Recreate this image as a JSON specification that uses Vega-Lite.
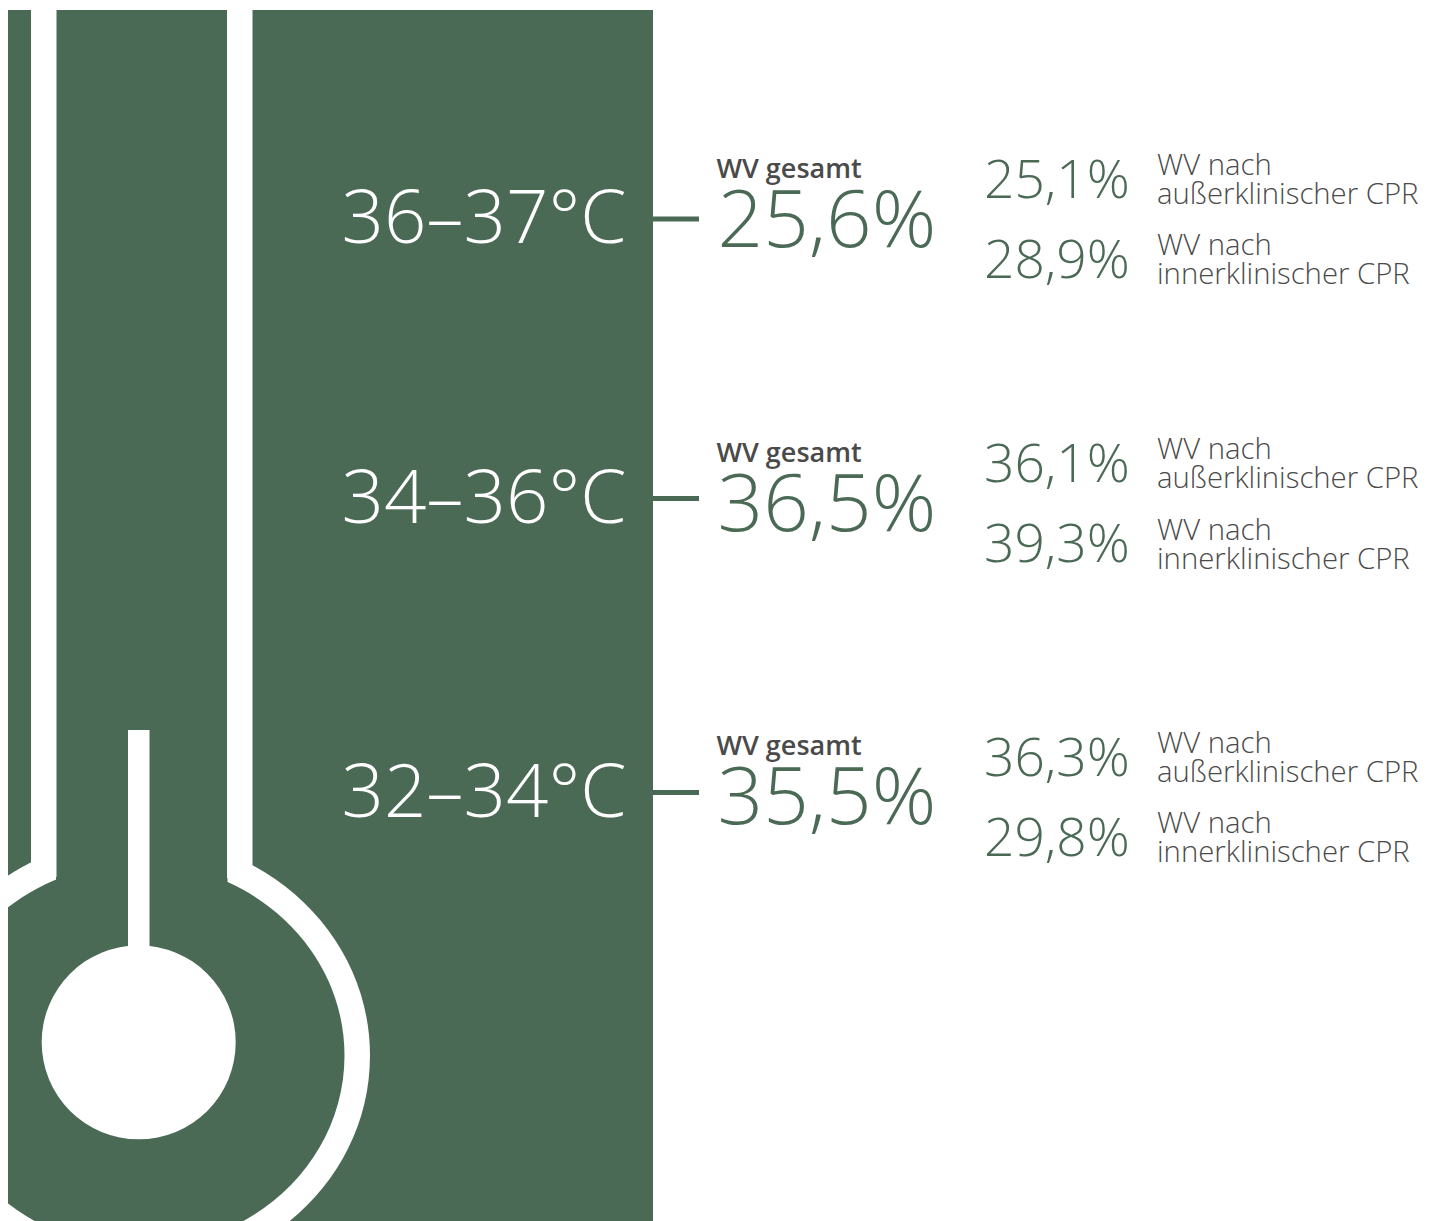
{
"$schema":"https://vega.github.io/schema/vega-lite/v6.json",
"width":1436,"height":1221,"padding":0,"autosize":{"type":"fit","contains":"padding"},"background":"#ffffff",
"config":{"view":{"stroke":null},"text":{"font":"Open Sans"}},
"datasets":{
"bg":[{"part":"Thermometer","x":8,"x2":653,"y":10,"y2":1221}],
"shapes":[
{"part":"Röhre innen","tone":"green","x":56,"x2":227.5,"y":10,"y2":890},
{"part":"Röhre links","tone":"white","x":31,"x2":56.5,"y":10,"y2":877},
{"part":"Röhre rechts","tone":"white","x":227,"x2":252.5,"y":10,"y2":878},
{"part":"Steigrohr","tone":"white","x":128,"x2":149.5,"y":730,"y2":960},
{"part":"Rand","tone":"white","x":0,"x2":8,"y":0,"y2":1221},
{"part":"Linie 36–37°C","tone":"green","x":653,"x2":699,"y":216.5,"y2":221.5},
{"part":"Linie 34–36°C","tone":"green","x":653,"x2":699,"y":496,"y2":501},
{"part":"Linie 32–34°C","tone":"green","x":653,"x2":699,"y":790,"y2":795}
],
"outer":[{"part":"Kolben außen","x":139,"y":1055.5}],
"inner":[{"part":"Kolben innen","x":139,"y":1055.5}],
"bulb":[{"part":"Quecksilber","x":138.7,"y":1042.3}],
"bands":[
{"row":1,"band":"36–37°C","overall":25.6,"overallLabel":"25,6%","title":"WV gesamt"},
{"row":2,"band":"34–36°C","overall":36.5,"overallLabel":"36,5%","title":"WV gesamt"},
{"row":3,"band":"32–34°C","overall":35.5,"overallLabel":"35,5%","title":"WV gesamt"}
],
"details":[
{"row":1,"band":"36–37°C","group":"außerklinisch","value":25.1,"label":"25,1%","caption":"WV nach\naußerklinischer CPR"},
{"row":2,"band":"36–37°C","group":"innerklinisch","value":28.9,"label":"28,9%","caption":"WV nach\ninnerklinischer CPR"},
{"row":3,"band":"34–36°C","group":"außerklinisch","value":36.1,"label":"36,1%","caption":"WV nach\naußerklinischer CPR"},
{"row":4,"band":"34–36°C","group":"innerklinisch","value":39.3,"label":"39,3%","caption":"WV nach\ninnerklinischer CPR"},
{"row":5,"band":"32–34°C","group":"außerklinisch","value":36.3,"label":"36,3%","caption":"WV nach\naußerklinischer CPR"},
{"row":6,"band":"32–34°C","group":"innerklinisch","value":29.8,"label":"29,8%","caption":"WV nach\ninnerklinischer CPR"}
]
},
"resolve":{"scale":{"x":"independent","y":"independent"}},
"layer":[
{"data":{"name":"bg"},"mark":{"type":"rect","fill":"#4b6a55"},
 "encoding":{"x":{"field":"x","type":"quantitative","scale":{"domain":[0,1436],"range":[0,1436],"nice":false,"zero":false},"axis":null},"x2":{"field":"x2"},
 "y":{"field":"y","type":"quantitative","scale":{"domain":[0,1221],"range":[0,1221],"nice":false,"zero":false},"axis":null},"y2":{"field":"y2"}}},
{"data":{"name":"outer"},"mark":{"type":"point","filled":true,"clip":true,"fill":"#ffffff","opacity":1,"strokeWidth":0,"size":213444,"shape":"M-1,0C-1,-0.5222,-0.5523,-0.9455,0,-0.9455C0.5523,-0.9455,1,-0.5222,1,0C1,0.5222,0.5523,0.9455,0,0.9455C-0.5523,0.9455,-1,0.5222,-1,0Z"},
 "encoding":{"x":{"field":"x","type":"quantitative","scale":{"domain":[0,1436],"range":[0,1436],"nice":false,"zero":false},"axis":null},
 "y":{"field":"y","type":"quantitative","scale":{"domain":[0,1221],"range":[0,1221],"nice":false,"zero":false},"axis":null}}},
{"data":{"name":"inner"},"mark":{"type":"point","filled":true,"clip":true,"fill":"#4b6a55","opacity":1,"strokeWidth":0,"size":168921,"shape":"M-1,0C-1,-0.5165,-0.5523,-0.935,0,-0.935C0.5523,-0.935,1,-0.5165,1,0C1,0.5165,0.5523,0.935,0,0.935C-0.5523,0.935,-1,0.5165,-1,0Z"},
 "encoding":{"x":{"field":"x","type":"quantitative","scale":{"domain":[0,1436],"range":[0,1436],"nice":false,"zero":false},"axis":null},
 "y":{"field":"y","type":"quantitative","scale":{"domain":[0,1221],"range":[0,1221],"nice":false,"zero":false},"axis":null}}},
{"data":{"name":"shapes"},"mark":{"type":"rect"},
 "encoding":{"x":{"field":"x","type":"quantitative","scale":{"domain":[0,1436],"range":[0,1436],"nice":false,"zero":false},"axis":null},"x2":{"field":"x2"},
 "y":{"field":"y","type":"quantitative","scale":{"domain":[0,1221],"range":[0,1221],"nice":false,"zero":false},"axis":null},"y2":{"field":"y2"},
 "fill":{"field":"tone","type":"nominal","scale":{"domain":["green","white"],"range":["#4b6a55","#ffffff"]},"legend":null}}},
{"data":{"name":"bulb"},"mark":{"type":"point","shape":"circle","filled":true,"clip":true,"fill":"#ffffff","opacity":1,"strokeWidth":0,"size":37636},
 "encoding":{"x":{"field":"x","type":"quantitative","scale":{"domain":[0,1436],"range":[0,1436],"nice":false,"zero":false},"axis":null},
 "y":{"field":"y","type":"quantitative","scale":{"domain":[0,1221],"range":[0,1221],"nice":false,"zero":false},"axis":null}}},
{"data":{"name":"bands"},"transform":[{"calculate":"626.5","as":"col"}],"mark":{"type":"text","align":"right","baseline":"alphabetic","font":"Open Sans","fontWeight":300,"fontSize":74.4,"fill":"#ffffff"},
 "encoding":{"x":{"field":"col","type":"quantitative","scale":{"domain":[0,1436],"range":[0,1436],"nice":false,"zero":false},"axis":null},
 "y":{"field":"row","type":"quantitative","scale":{"domain":[1,2,3],"range":[242.5,522.5,816.5],"nice":false,"zero":false},"axis":null},
 "text":{"field":"band"}}},
{"data":{"name":"bands"},"transform":[{"calculate":"716.5","as":"col"}],"mark":{"type":"text","align":"left","baseline":"alphabetic","font":"Open Sans","fontWeight":600,"fontSize":27,"fill":"#4a4a4a"},
 "encoding":{"x":{"field":"col","type":"quantitative","scale":{"domain":[0,1436],"range":[0,1436],"nice":false,"zero":false},"axis":null},
 "y":{"field":"row","type":"quantitative","scale":{"domain":[1,2,3],"range":[178,462,755],"nice":false,"zero":false},"axis":null},
 "text":{"field":"title"}}},
{"data":{"name":"bands"},"transform":[{"calculate":"717.5","as":"col"}],"mark":{"type":"text","align":"left","baseline":"alphabetic","font":"Open Sans","fontWeight":300,"fontSize":80,"fill":"#4b6a55"},
 "encoding":{"x":{"field":"col","type":"quantitative","scale":{"domain":[0,1436],"range":[0,1436],"nice":false,"zero":false},"axis":null},
 "y":{"field":"row","type":"quantitative","scale":{"domain":[1,2,3],"range":[247,531,824],"nice":false,"zero":false},"axis":null},
 "text":{"field":"overallLabel"}}},
{"data":{"name":"details"},"transform":[{"calculate":"984","as":"col"}],"mark":{"type":"text","align":"left","baseline":"alphabetic","font":"Open Sans","fontWeight":300,"fontSize":53.3,"fill":"#4b6a55"},
 "encoding":{"x":{"field":"col","type":"quantitative","scale":{"domain":[0,1436],"range":[0,1436],"nice":false,"zero":false},"axis":null},
 "y":{"field":"row","type":"quantitative","scale":{"domain":[1,2,3,4,5,6],"range":[198,278,482,562,776,856],"nice":false,"zero":false},"axis":null},
 "text":{"field":"label"}}},
{"data":{"name":"details"},"transform":[{"calculate":"1157","as":"col"}],"mark":{"type":"text","align":"left","baseline":"alphabetic","font":"Open Sans","fontWeight":300,"fontSize":29.3,"lineHeight":29,"lineBreak":"\n","fill":"#4a4a4a"},
 "encoding":{"x":{"field":"col","type":"quantitative","scale":{"domain":[0,1436],"range":[0,1436],"nice":false,"zero":false},"axis":null},
 "y":{"field":"row","type":"quantitative","scale":{"domain":[1,2,3,4,5,6],"range":[175,255,459,540,753,833],"nice":false,"zero":false},"axis":null},
 "text":{"field":"caption"}}}
]
}
